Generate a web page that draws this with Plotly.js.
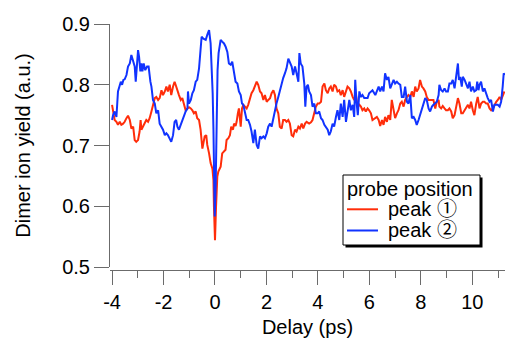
<!DOCTYPE html>
<html>
<head>
<meta charset="utf-8">
<script src="https://cdn.plot.ly/plotly-3.0.1.min.js"></script>
<style>html,body{margin:0;padding:0;background:#fff;}#chart{width:505px;height:338px;}</style>
</head>
<body>
<div id="chart"></div>
<script>
// Delay (ps) and yield for probe at peak 1 (red)
const redX = [-4.00,-3.96,-3.90,-3.83,-3.77,-3.70,-3.64,-3.57,-3.51,-3.44,-3.38,-3.31,-3.25,-3.18,-3.12,-3.06,-2.99,-2.93,-2.89,-2.86,-2.80,-2.73,-2.67,-2.60,-2.54,-2.47,-2.41,-2.34,-2.28,-2.21,-2.15,-2.08,-2.02,-1.95,-1.89,-1.83,-1.76,-1.70,-1.63,-1.57,
 -1.53,-1.46,-1.40,-1.33,-1.27,-1.20,-1.14,-1.07,-1.01,-0.94,-0.88,-0.82,-0.75,-0.69,-0.62,-0.56,-0.49,-0.45,-0.40,-0.34,-0.30,-0.23,-0.17,-0.10,-0.06,-0.04,0.00,0.04,0.09,0.13,0.18,0.22,0.28,0.35,0.41,0.45,0.52,0.58,0.63,0.70,0.74,0.80,0.84,0.89,0.93,1.00,1.05,
 1.10,1.17,1.23,1.29,1.36,1.42,1.49,1.55,1.62,1.68,1.75,1.81,1.88,1.94,2.01,2.07,2.14,2.20,2.27,2.33,2.39,2.46,2.52,2.59,2.65,2.72,2.78,2.85,2.91,2.98,3.04,3.11,3.17,3.24,3.30,3.37,3.43,3.50,3.56,
 3.66,3.73,3.79,3.86,3.92,3.99,4.05,4.12,4.18,4.25,4.31,4.38,4.44,4.50,4.57,4.63,4.70,4.76,4.83,4.89,4.96,5.02,5.09,5.15,5.22,5.28,5.35,5.41,5.48,5.54,5.61,5.67,5.73,5.80,5.86,5.93,5.99,6.06,6.12,
 6.23,6.29,6.36,6.42,6.49,6.55,6.61,6.68,6.74,6.81,6.87,6.94,7.00,7.07,7.13,7.20,7.26,7.33,7.39,7.46,7.52,7.59,7.65,7.72,7.78,7.84,7.91,7.97,8.04,8.10,8.17,8.23,8.30,8.36,8.43,8.49,8.56,8.62,8.69,
 8.72,8.79,8.85,8.92,8.98,9.05,9.11,9.18,9.24,9.31,9.37,9.44,9.50,9.57,9.63,9.70,9.76,9.83,9.89,9.95,10.02,10.08,10.15,10.21,10.28,10.34,10.41,10.47,10.54,10.60,10.67,10.73,10.80,10.86,10.93,10.99,11.06,11.12,11.18,11.25];
const redY = [0.767,0.756,0.742,0.739,0.734,0.739,0.734,0.736,0.739,0.745,0.749,0.742,0.728,0.731,0.709,0.706,0.709,0.723,0.742,0.726,0.731,0.736,0.742,0.739,0.745,0.756,0.769,0.778,0.780,0.775,0.778,0.791,0.783,0.789,0.797,0.789,0.800,0.783,0.797,0.805,
 0.800,0.789,0.783,0.775,0.778,0.767,0.758,0.761,0.763,0.761,0.758,0.753,0.756,0.745,0.742,0.726,0.695,0.704,0.715,0.717,0.701,0.687,0.671,0.662,0.643,0.599,0.544,0.599,0.649,0.657,0.662,0.665,0.687,0.690,0.693,0.709,0.712,0.717,0.731,0.726,0.736,0.732,0.739,0.753,0.761,0.731,0.761,
 0.767,0.764,0.761,0.767,0.778,0.786,0.791,0.797,0.805,0.800,0.789,0.786,0.775,0.783,0.772,0.775,0.778,0.786,0.791,0.783,0.761,0.753,0.731,0.728,0.742,0.742,0.739,0.742,0.736,0.717,0.715,0.726,0.723,0.731,0.728,0.736,0.728,0.736,0.739,
 0.736,0.738,0.742,0.753,0.764,0.769,0.769,0.772,0.797,0.802,0.791,0.786,0.794,0.797,0.789,0.800,0.797,0.789,0.791,0.783,0.791,0.780,0.791,0.797,0.794,0.789,0.780,0.775,0.783,0.764,0.767,0.764,0.758,0.761,0.756,0.761,0.758,0.753,0.742,
 0.745,0.747,0.742,0.732,0.742,0.734,0.747,0.739,0.750,0.742,0.775,0.761,0.745,0.753,0.758,0.769,0.772,0.764,0.775,0.780,0.783,0.780,0.789,0.780,0.797,0.789,0.794,0.808,0.797,0.794,0.789,0.780,0.775,0.775,0.775,0.775,0.761,0.772,0.775,
 0.764,0.761,0.765,0.761,0.758,0.758,0.761,0.756,0.745,0.750,0.761,0.778,0.769,0.753,0.753,0.758,0.764,0.767,0.761,0.772,0.758,0.750,0.769,0.780,0.761,0.769,0.772,0.772,0.769,0.769,0.761,0.758,0.761,0.767,0.772,0.775,0.780,0.775,0.783,0.789];

// probe at peak 2 (blue)
const blueX = [-4.00,-3.96,-3.90,-3.83,-3.77,-3.70,-3.66,-3.61,-3.56,-3.51,-3.44,-3.38,-3.31,-3.25,-3.18,-3.12,-3.08,-3.03,-2.99,-2.95,-2.90,-2.86,-2.82,-2.77,-2.71,-2.64,-2.58,-2.51,-2.47,-2.41,-2.34,-2.28,-2.21,-2.15,-2.08,-2.02,-1.95,-1.89,-1.83,-1.76,-1.70,-1.63,-1.57,-1.51,
 -1.46,-1.40,-1.33,-1.27,-1.20,-1.14,-1.07,-1.05,-1.01,-0.94,-0.88,-0.82,-0.75,-0.69,-0.62,-0.56,-0.52,-0.45,-0.36,-0.30,-0.23,-0.17,-0.13,-0.09,-0.06,-0.04,-0.01,0.03,0.06,0.10,0.14,0.18,0.22,0.28,0.35,0.41,0.48,0.54,0.61,0.67,0.74,0.80,0.87,0.93,1.00,1.05,
 1.10,1.17,1.23,1.29,1.36,1.42,1.49,1.55,1.62,1.68,1.75,1.81,1.88,1.94,2.01,2.07,2.14,2.20,2.27,2.33,2.39,2.46,2.52,2.59,2.65,2.72,2.78,2.85,2.91,2.98,3.04,3.11,3.17,3.24,3.28,3.33,3.40,3.47,3.51,3.56,3.61,
 3.66,3.73,3.79,3.86,3.92,3.99,4.05,4.12,4.18,4.25,4.31,4.38,4.44,4.50,4.57,4.63,4.70,4.76,4.83,4.89,4.96,5.02,5.09,5.15,5.22,5.28,5.35,5.41,5.45,5.50,5.55,5.61,5.67,5.73,5.80,5.86,5.93,5.99,6.06,6.12,
 6.23,6.29,6.36,6.42,6.49,6.55,6.61,6.68,6.74,6.81,6.87,6.94,7.00,7.07,7.13,7.20,7.26,7.33,7.39,7.46,7.52,7.59,7.65,7.72,7.78,7.84,7.91,7.97,8.04,8.10,8.17,8.23,8.30,8.36,8.43,8.49,8.56,8.62,8.69,
 8.72,8.79,8.85,8.92,8.98,9.05,9.11,9.18,9.24,9.31,9.37,9.44,9.48,9.53,9.59,9.63,9.70,9.76,9.83,9.89,9.95,10.02,10.08,10.15,10.19,10.24,10.28,10.34,10.41,10.47,10.54,10.60,10.67,10.73,10.80,10.86,10.93,10.99,11.06,11.12,11.18,11.22,11.26];
const blueY = [0.742,0.750,0.756,0.747,0.789,0.800,0.805,0.800,0.808,0.809,0.816,0.830,0.835,0.849,0.838,0.830,0.805,0.835,0.857,0.846,0.822,0.835,0.822,0.835,0.824,0.830,0.830,0.805,0.797,0.775,0.769,0.753,0.758,0.736,0.731,0.726,0.717,0.720,0.717,0.712,0.706,0.717,0.739,0.742,
 0.731,0.726,0.734,0.742,0.747,0.756,0.761,0.789,0.769,0.775,0.786,0.791,0.805,0.808,0.827,0.852,0.879,0.876,0.874,0.882,0.890,0.868,0.835,0.786,0.726,0.660,0.583,0.643,0.742,0.824,0.852,0.865,0.874,0.871,0.868,0.863,0.854,0.835,0.833,0.838,0.816,0.805,0.802,0.789,0.783,0.769,
 0.767,0.756,0.742,0.742,0.734,0.723,0.704,0.726,0.701,0.695,0.715,0.712,0.715,0.712,0.720,0.731,0.736,0.731,0.747,0.758,0.769,0.780,0.791,0.800,0.811,0.819,0.827,0.843,0.838,0.830,0.816,0.830,0.819,0.805,0.852,0.835,0.830,0.802,0.764,0.797,0.800,
 0.789,0.783,0.764,0.769,0.753,0.753,0.756,0.745,0.742,0.734,0.731,0.726,0.717,0.723,0.736,0.731,0.747,0.758,0.742,0.769,0.747,0.775,0.739,0.753,0.775,0.758,0.767,0.747,0.808,0.772,0.750,0.789,0.780,0.783,0.778,0.778,0.778,0.786,0.789,0.791,
 0.783,0.791,0.797,0.789,0.797,0.789,0.819,0.808,0.813,0.794,0.800,0.808,0.802,0.805,0.802,0.800,0.780,0.780,0.797,0.772,0.769,0.783,0.745,0.747,0.742,0.734,0.742,0.750,0.758,0.767,0.778,0.775,0.761,0.756,0.764,0.767,0.769,0.772,0.783,
 0.800,0.791,0.789,0.794,0.789,0.789,0.802,0.802,0.808,0.794,0.811,0.835,0.808,0.813,0.797,0.813,0.808,0.800,0.794,0.805,0.789,0.797,0.789,0.791,0.805,0.791,0.800,0.805,0.789,0.794,0.783,0.778,0.772,0.775,0.756,0.767,0.767,0.767,0.764,0.772,0.797,0.819,0.816];

const seriesNames = ['peak \u2460', 'peak \u2461'];
const legendTitle = 'probe position';
const xTickVals = [-4, -2, 0, 2, 4, 6, 8, 10];
const xTickText = ['-4', '-2', '0', '2', '4', '6', '8', '10'];
const xMinorVals = [-3, -1, 1, 3, 5, 7, 9, 11];
const yTickVals = [0.5, 0.6, 0.7, 0.8, 0.9];
const yTickText = ['0.5', '0.6', '0.7', '0.8', '0.9'];

const FONT = 'Liberation Sans, Arial, Helvetica, Noto Sans CJK JP, sans-serif';
const axisCol = '#6b6b6b';
const colors = ['#ff2d0a', '#1133ff'];

// plot area in pixels (for placing the hand-drawn legend box)
const W = 505, H = 338, ML = 110, MR = 0, MT = 24, MB = 68;
const px = v => (v - ML) / (W - ML - MR);
const py = v => (H - MB - v) / (H - MT - MB);

const traces = [
  {x: redX, y: redY, name: seriesNames[0], type: 'scatter', mode: 'lines',
   line: {color: colors[0], width: 2}, showlegend: false},
  {x: blueX, y: blueY, name: seriesNames[1], type: 'scatter', mode: 'lines',
   line: {color: colors[1], width: 2}, showlegend: false}
];

const legRows = [209.3, 230.5];
const shapes = [
  {type: 'rect', xref: 'paper', yref: 'paper', layer: 'above',
   x0: px(345.5), x1: px(482.5), y0: py(247.5), y1: py(177.5),
   fillcolor: '#000', line: {width: 0}},
  {type: 'rect', xref: 'paper', yref: 'paper', layer: 'above',
   x0: px(343), x1: px(480), y0: py(245), y1: py(175),
   fillcolor: '#fff', line: {color: '#000', width: 1}}
];
legRows.forEach((r, i) => shapes.push({
  type: 'line', xref: 'paper', yref: 'paper', layer: 'above',
  x0: px(347), x1: px(378), y0: py(r), y1: py(r),
  line: {color: colors[i], width: 2}
}));

const annotations = [
  {text: legendTitle, xref: 'paper', yref: 'paper', x: px(344.5), y: py(189), xanchor: 'left', yanchor: 'middle',
   showarrow: false, font: {family: FONT, size: 20, color: '#000'}}
];
seriesNames.forEach((n, i) => annotations.push({
  text: n, xref: 'paper', yref: 'paper', x: px(385.5), y: py(legRows[i] - 0.5), xanchor: 'left', yanchor: 'middle',
  showarrow: false, font: {family: FONT, size: 20, color: '#000'}
}));

const layout = {
  width: W, height: H,
  margin: {l: ML, r: MR, t: MT, b: MB, pad: 0},
  paper_bgcolor: '#fff', plot_bgcolor: '#fff',
  font: {family: FONT, size: 20, color: '#000'},
  showlegend: false,
  shapes: shapes,
  annotations: annotations,
  xaxis: {
    range: [-4.08, 11.27], anchor: 'free', position: 0,
    showline: true, linecolor: axisCol, linewidth: 1,
    showgrid: false, zeroline: false,
    tickmode: 'array', tickvals: xTickVals, ticktext: xTickText,
    ticks: 'outside', ticklen: 14, tickcolor: axisCol, tickwidth: 1,
    minor: {tickmode: 'array', tickvals: xMinorVals, ticks: 'outside', ticklen: 7, tickcolor: axisCol, tickwidth: 1, showgrid: false},
    tickfont: {family: FONT, size: 20, color: '#000'},
    title: {text: 'Delay (ps)', font: {family: FONT, size: 20, color: '#000'}, standoff: 12},
    automargin: false
  },
  yaxis: {
    range: [0.5, 0.9], domain: [0.0122, 1],
    showline: true, linecolor: axisCol, linewidth: 1,
    showgrid: false, zeroline: false,
    tickmode: 'array', tickvals: yTickVals, ticktext: yTickText,
    ticks: 'outside', ticklen: 15, tickcolor: axisCol, tickwidth: 1,
    tickfont: {family: FONT, size: 20, color: '#000'},
    title: {text: 'Dimer ion yield (a.u.)', font: {family: FONT, size: 20, color: '#000'}, standoff: 26},
    automargin: false
  }
};

Plotly.newPlot('chart', traces, layout, {displayModeBar: false, staticPlot: true});
</script>
</body>
</html>
